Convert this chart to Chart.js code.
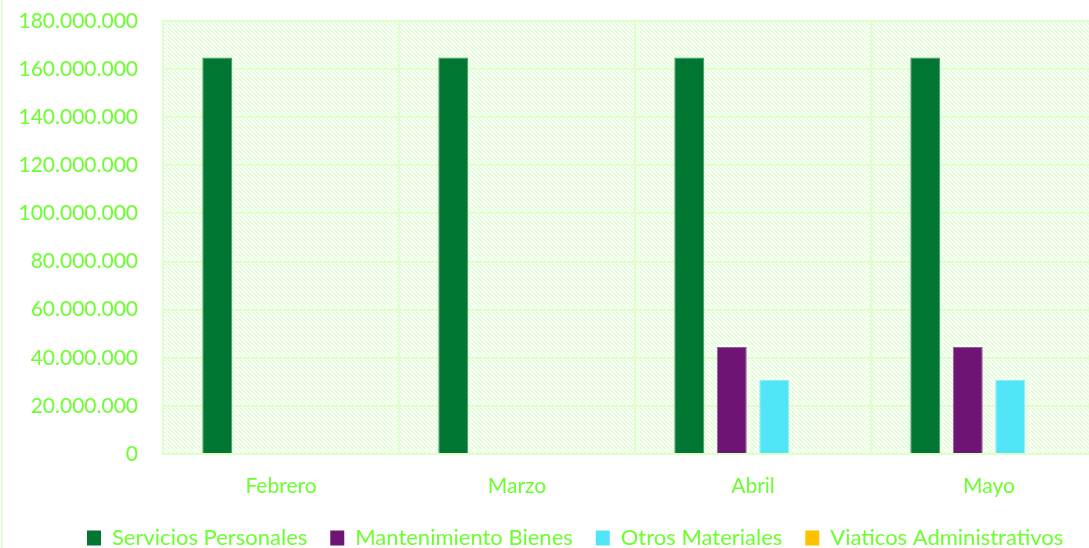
<!DOCTYPE html>
<html><head><meta charset="utf-8">
<script src="https://cdn.jsdelivr.net/npm/chart.js@4/dist/chart.umd.min.js"></script>
<style>
html,body{margin:0;padding:0;background:#fff;overflow:hidden;width:1089px;height:548px;}
#wrap{position:absolute;left:0;top:0;width:1107px;height:548px;}
#frame{position:absolute;left:1px;top:0;width:2px;height:548px;background:#e4ffd8;}
</style></head>
<body>
<div id="frame"></div>
<div id="wrap"><canvas id="c"></canvas></div>
<script>
const categories = ["Febrero", "Marzo", "Abril", "Mayo"];
const serviciosPersonales = [164800000, 164800000, 164800000, 164800000];
const mantenimientoBienes = [0, 0, 44500000, 44500000];
const otrosMateriales = [0, 0, 30800000, 30800000];
const viaticosAdministrativos = [0, 0, 0, 0];
const seriesNames = ["Servicios Personales", "Mantenimiento Bienes", "Otros Materiales", "Viaticos Administrativos"];
const yTicks = [0, 20000000, 40000000, 60000000, 80000000, 100000000, 120000000, 140000000, 160000000, 180000000];

const txt = '#6cff30';
const grid = '#ddffcc';
const LEG_PAD = 23;
const LEG_H = 20;

function makePattern(){
  const p = document.createElement('canvas');
  p.width = 4; p.height = 4;
  const g = p.getContext('2d');
  g.fillStyle = '#fff'; g.fillRect(0,0,4,4);
  g.fillStyle = '#e2ffd6';
  for (let i=0;i<4;i++){ g.fillRect(i,i,1,1); g.fillRect((i+1)%4,i,1,1); }
  return g.createPattern(p,'repeat');
}

const bgPlugin = {
  id:'bg',
  beforeLayout(chart){
    const L = chart.legend;
    if (L && !L._patched){
      const orig = L.fit;
      L.fit = function(){ orig.call(this); this.height = LEG_H; };
      L._patched = true;
    }
  },
  afterLayout(chart){
    const L = chart.legend;
    const dx = 87 - LEG_PAD - L.left;
    const newTop = 538 - LEG_PAD - 11;
    L.left += dx; L.right += dx;
    L.top = newTop; L.bottom = 548; L.height = L.bottom - L.top;
  },
  beforeDraw(chart){
    const {ctx, chartArea:a} = chart;
    ctx.save();
    ctx.fillStyle = makePattern();
    ctx.fillRect(a.left, a.top, a.right-a.left, a.bottom-a.top);
    ctx.restore();
  }
};

function fmt(v){ return String(Math.round(v)).replace(/\B(?=(\d{3})+(?!\d))/g,'.'); }

new Chart(document.getElementById('c'), {
  type:'bar',
  data:{
    labels:categories,
    datasets:[
      {label:seriesNames[0], data:serviciosPersonales, backgroundColor:'#007632', borderColor:'#3a9a5e', borderWidth:1},
      {label:seriesNames[1], data:mantenimientoBienes, backgroundColor:'#6d1475', borderColor:'#9a5aa0', borderWidth:1},
      {label:seriesNames[2], data:otrosMateriales, backgroundColor:'#52e5f8', borderColor:'#8cf0fa', borderWidth:1},
      {label:seriesNames[3], data:viaticosAdministrativos, backgroundColor:'#ffc000', borderColor:'#ffc000', borderWidth:0}
    ]
  },
  options:{
    responsive:true, maintainAspectRatio:false, animation:false,
    categoryPercentage:0.72, barPercentage:0.706,
    layout:{padding:{top:21, right:0, left:0, bottom:0}},
    plugins:{
      tooltip:{enabled:false},
      legend:{
        position:'bottom', align:'start',
        labels:{color:txt, font:{family:'Lato', size:22}, boxWidth:14, boxHeight:15, padding:LEG_PAD,
          generateLabels(chart){
            return chart.data.datasets.map((d,i)=>({text:d.label, fillStyle:d.backgroundColor, strokeStyle:d.backgroundColor, lineWidth:0, fontColor:txt, datasetIndex:i, hidden:false}));
          }}
      }
    },
    scales:{
      x:{
        grid:{color:grid, lineWidth:2, drawTicks:false, offset:true},
        border:{color:grid, width:2},
        ticks:{color:txt, font:{family:'Lato', size:21}, padding:20},
        afterFit(s){ s.height = (548 - 454) - LEG_H; }
      },
      y:{
        min:0, max:180000000,
        afterBuildTicks(s){ s.ticks = yTicks.map(v=>({value:v})); },
        grid:{color:grid, lineWidth:2, drawTicks:false},
        border:{color:grid, width:2},
        ticks:{color:txt, font:{family:'Lato', size:21}, padding:25, callback:v=>fmt(v)},
        afterFit(s){ s.width = 163; s.paddingTop = 0; s.paddingBottom = 0; }
      }
    }
  },
  plugins:[bgPlugin]
});
</script>
</body></html>
